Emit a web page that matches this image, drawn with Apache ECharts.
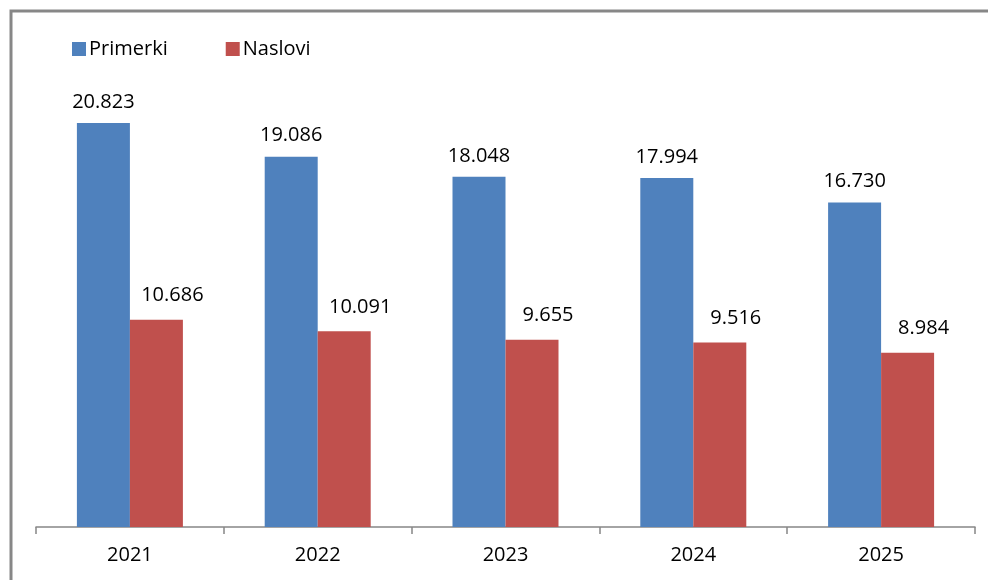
<!DOCTYPE html>
<html>
<head>
<meta charset="utf-8">
<script src="https://cdn.jsdelivr.net/npm/echarts@6/dist/echarts.min.js"></script>
<style>
  html, body { margin: 0; padding: 0; background: #fff; }
  #main { width: 988px; height: 580px; }
</style>
</head>
<body>
<div id="main"></div>
<script>
// podaci
var years = ['2021', '2022', '2023', '2024', '2025'];
var primerki = [20823, 19086, 18048, 17994, 16730];
var naslovi = [10686, 10091, 9655, 9516, 8984];

function fmtDot(v) {
    return String(v).replace(/\B(?=(\d{3})+(?!\d))/g, '.');
}

var myChart = echarts.init(document.getElementById('main'));

var option = {
    animation: false,
    backgroundColor: '#fff',
    textStyle: { fontFamily: 'Open Sans' },
    graphic: [{
        type: 'rect',
        shape: { x: 11, y: 11, width: 1000, height: 600 },
        style: { fill: 'none', stroke: '#878787', lineWidth: 3 },
        silent: true
    }],
    legend: {
        left: 67,
        top: 34,
        itemWidth: 14,
        itemHeight: 14,
        itemGap: 58,
        icon: 'rect',
        textStyle: { fontSize: 20, color: '#000', fontFamily: 'Open Sans', padding: [0, 0, 0, -2] },
        data: ['Primerki', 'Naslovi']
    },
    grid: { left: 36, right: 13, top: 42, bottom: 53, containLabel: false },
    xAxis: {
        type: 'category',
        data: years,
        axisLine: { lineStyle: { color: '#868686', width: 1.5 } },
        axisTick: { show: true, length: 7, lineStyle: { color: '#868686', width: 1.5 } },
        axisLabel: { color: '#000', fontSize: 20, margin: 18, fontFamily: 'Open Sans' }
    },
    yAxis: {
        type: 'value',
        min: 0,
        max: 25000,
        show: false,
        splitLine: { show: false }
    },
    series: [
        {
            name: 'Primerki',
            type: 'bar',
            data: primerki,
            barWidth: 53,
            barGap: '0%',
            itemStyle: { color: '#4F81BD' },
            label: {
                show: true,
                position: 'top',
                distance: 11,
                color: '#000',
                fontSize: 20,
                fontFamily: 'Open Sans',
                formatter: function (p) { return fmtDot(p.value); }
            }
        },
        {
            name: 'Naslovi',
            type: 'bar',
            data: naslovi,
            barWidth: 53,
            barGap: '0%',
            itemStyle: { color: '#C0504D' },
            label: {
                show: true,
                position: 'top',
                distance: 14,
                offset: [16, 0],
                color: '#000',
                fontSize: 20,
                fontFamily: 'Open Sans',
                formatter: function (p) { return fmtDot(p.value); }
            }
        }
    ]
};

myChart.setOption(option);
</script>
</body>
</html>
